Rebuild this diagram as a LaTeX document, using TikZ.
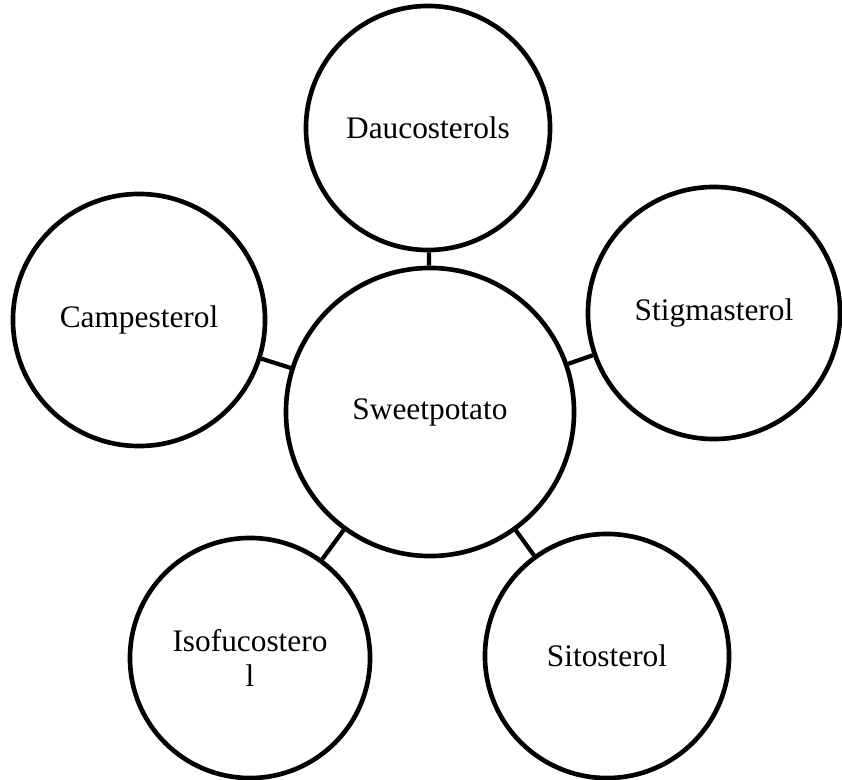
\documentclass[tikz,border=0pt]{standalone}
\usepackage{fontspec}
\setmainfont{Liberation Serif}
\usepackage{tikz}

\begin{document}
\begin{tikzpicture}[
    x=0.025cm, y=-0.025cm,
    hub/.style={circle, draw=black, line width=3.3pt, minimum size=7.2cm, inner sep=0pt, font=\fontsize{22.3}{24.5}\selectfont},
    sterol/.style={circle, draw=black, line width=3.3pt, minimum size=6.1cm, inner sep=0pt, align=center, font=\fontsize{22.3}{24.5}\selectfont},
    link/.style={draw=black, line width=3pt}
]
\useasboundingbox (0,0) rectangle (842,780);

% center
\node[hub] (sweet) at (430, 412) {Sweetpotato};

% sterols
\node[sterol] (dauco) at (428, 128) {Daucosterols};
\node[sterol, minimum size=6.3cm] (campe) at (139, 320) {Campesterol};
\node[sterol, minimum size=6.3cm] (stigma) at (714, 313) {Stigmasterol};
\node[sterol, minimum size=6.0cm] (isofu) at (250, 658) {Isofucostero\\l};
\node[sterol] (sito) at (607, 656) {Sitosterol};

% links
\draw[link] (sweet) -- (dauco);
\draw[link] (sweet) -- (campe);
\draw[link] (sweet) -- (stigma);
\draw[link] (sweet) -- (isofu);
\draw[link] (sweet) -- (sito);

\end{tikzpicture}
\end{document}
